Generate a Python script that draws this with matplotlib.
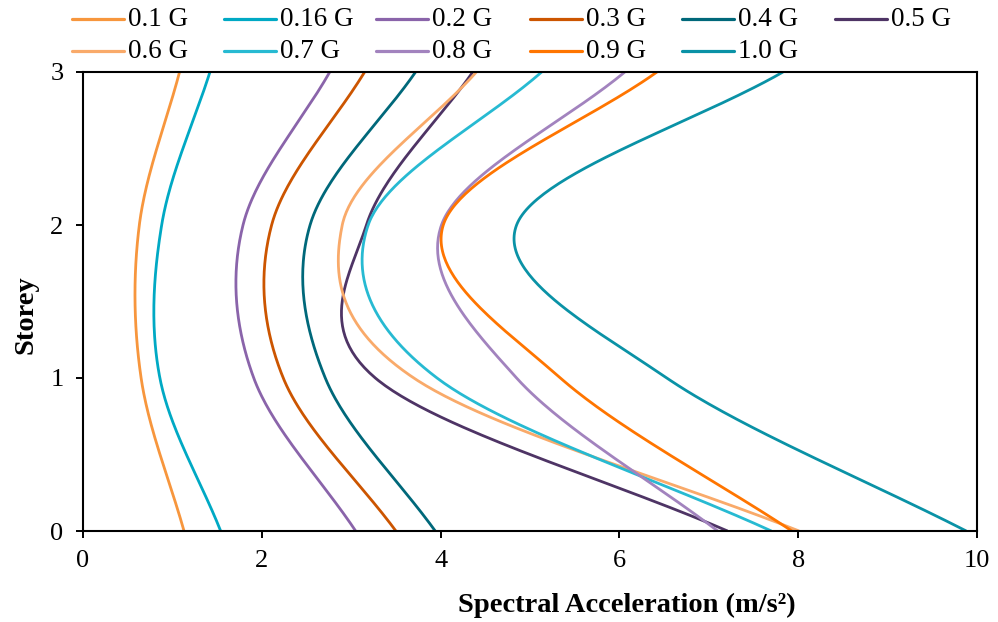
import numpy as np
import matplotlib
matplotlib.use("Agg")
import matplotlib.pyplot as plt
from matplotlib.lines import Line2D

plt.rcParams['font.family'] = ['Liberation Serif', 'DejaVu Serif']

storeys = [0, 1, 2, 3]
labels = ["0.1 G", "0.16 G", "0.2 G", "0.3 G", "0.4 G", "0.5 G",
          "0.6 G", "0.7 G", "0.8 G", "0.9 G", "1.0 G"]
sa_01 = [1.13, 0.65, 0.63, 1.08]
sa_016 = [1.54, 0.86, 0.88, 1.42]
sa_02 = [3.05, 1.91, 1.79, 2.76]
sa_03 = [3.50, 2.24, 2.11, 3.15]
sa_04 = [3.94, 2.71, 2.54, 3.72]
sa_05 = [7.21, 3.27, 3.17, 4.36]
sa_06 = [8.01, 3.70, 2.90, 4.40]
sa_07 = [7.70, 3.96, 3.19, 5.13]
sa_08 = [7.10, 4.85, 4.01, 6.06]
sa_09 = [7.93, 5.34, 4.03, 6.42]
sa_10 = [9.88, 6.53, 4.85, 7.83]
series = [sa_01, sa_016, sa_02, sa_03, sa_04, sa_05,
          sa_06, sa_07, sa_08, sa_09, sa_10]
colors = ['#F7963D', '#00A9C4', '#8A64AA', '#CC5500', '#00687A', '#4E3465',
          '#F9AA6A', '#27BAD2', '#A283BE', '#FF7500', '#0A92A6']


def smooth(xs, ys, n=60):
    """Excel-style smoothed line: Catmull-Rom Bezier through the points."""
    P = np.column_stack([xs, ys]).astype(float)
    m = len(P)
    T = np.zeros_like(P)
    for i in range(m):
        if i == 0:
            T[i] = (P[1] - P[0])
        elif i == m - 1:
            T[i] = (P[-1] - P[-2])
        else:
            T[i] = (P[i + 1] - P[i - 1]) / 2.0
    out = []
    t = np.linspace(0, 1, n)[:, None]
    for i in range(m - 1):
        p0 = P[i]
        p3 = P[i + 1]
        c1 = p0 + T[i] / 3.0
        c2 = p3 - T[i + 1] / 3.0
        seg = ((1 - t) ** 3) * p0 + 3 * ((1 - t) ** 2) * t * c1 + \
            3 * (1 - t) * t ** 2 * c2 + t ** 3 * p3
        out.append(seg if i == 0 else seg[1:])
    out = np.vstack(out)
    return out[:, 0], out[:, 1]


fig = plt.figure(figsize=(9.98, 6.22), dpi=100)
ax = fig.add_axes([83 / 998, 1 - 531 / 622, (977 - 83) / 998, (531 - 72) / 622])

for vals, lab, col in zip(series, labels, colors):
    sx, sy = smooth(vals, storeys)
    ax.plot(sx, sy, color=col, lw=2.0, label=lab, solid_capstyle='butt')

ax.set_xlim(0, 10)
ax.set_ylim(0, 3)
ax.set_xticks([0, 2, 4, 6, 8, 10])
ax.set_yticks([0, 1, 2, 3])
ax.tick_params(direction='out', length=5, width=1.4, labelsize=19, pad=9,
               color='black')
for s in ax.spines.values():
    s.set_linewidth(1.5)
    s.set_color('black')

ax.set_xlabel("Spectral Acceleration (m/s²)", fontsize=20.5, fontweight='bold')
ax.xaxis.label.set_va('center')
ax.xaxis.set_label_coords((627 - 83) / 894, (531 - 605) / 459)
ax.set_ylabel("Storey", fontsize=20.5, fontweight='bold')
ax.yaxis.label.set_va('center')
ax.yaxis.label.set_ha('center')
ax.yaxis.set_label_coords((26 - 83) / 894, (531 - 315) / 459)

# legend, two rows in Excel style
W, H = 998.0, 622.0
col_x = [72, 224, 376, 530, 682, 835]
row_y = [19, 51]
for k, (lab, col) in enumerate(zip(labels, colors)):
    r, c = divmod(k, 6)
    x0 = col_x[c]
    y0 = row_y[r]
    fig.add_artist(Line2D([x0 / W, (x0 + 52) / W], [1 - y0 / H, 1 - y0 / H],
                          transform=fig.transFigure, color=col, lw=2.3,
                          solid_capstyle='round'))
    fig.text((x0 + 56) / W, 1 - y0 / H, lab, fontsize=19.5, va='center',
             ha='left')

fig.savefig("out.png", dpi=100)
